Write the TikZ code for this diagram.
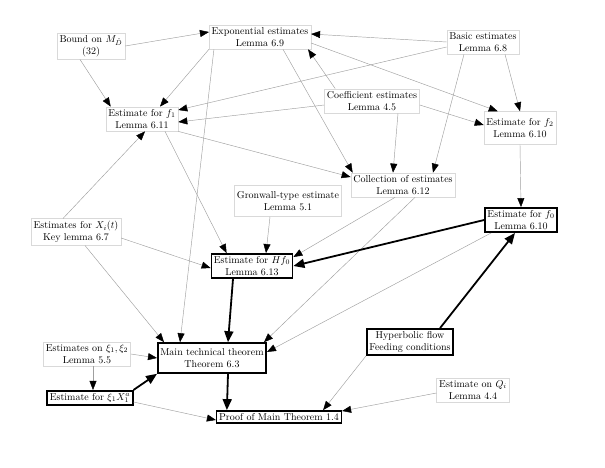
\documentclass[tikz,border=0pt]{standalone}
\usetikzlibrary{arrows.meta}
\usepackage{amsmath,amssymb}

\begin{document}
\begin{tikzpicture}[x=1pt,y=-1pt,>={Triangle[length=9pt,width=7pt,black]},
	soft node/.style={draw=gray!30,fill=white,align=center,inner sep=2.5pt,line width=0.5pt},
	key node/.style={draw,fill=white,align=center,inner sep=2.5pt,line width=1.6pt},
	thin arrow/.style={->,draw=gray!75,line width=0.45pt},
	thick arrow/.style={-{Triangle[length=11pt,width=9pt]},draw=black,line width=1.8pt}]
	\useasboundingbox (0,0) rectangle (605,468);

	\node[soft node] (bound) at (91,46) {Bound on $M_{\hat{D}}$\\(32)};
	\node[soft node] (expo) at (260,37) {Exponential estimates\\Lemma 6.9};
	\node[soft node] (basic) at (483,42) {Basic estimates\\Lemma 6.8};
	\node[soft node] (fone) at (142,119) {Estimate for $f_1$\\Lemma 6.11};
	\node[soft node] (coef) at (372,101) {Coefficient estimates\\Lemma 4.5};
	\node[soft node,minimum height=33pt] (ftwo) at (520,128) {Estimate for $f_2$\\Lemma 6.10};
	\node[soft node] (coll) at (403,185) {Collection of estimates\\Lemma 6.12};
	\node[soft node,minimum height=31pt] (gron) at (288,201) {Gronwall-type estimate\\Lemma 5.1};
	\node[soft node] (xi) at (76,232) {Estimates for $X_i(t)$\\Key lemma 6.7};
	\node[key node] (fzero) at (521,220) {Estimate for $f_0$\\Lemma 6.10};
	\node[key node] (hfzero) at (252,266) {Estimate for $Hf_0$\\Lemma 6.13};
	\node[key node] (hyper) at (410,342) {Hyperbolic flow\\Feeding conditions};
	\node[soft node] (xis) at (87,354) {Estimates on $\xi_1,\xi_2$\\Lemma 5.5};
	\node[key node,minimum height=30pt] (main) at (212,358) {Main technical theorem\\Theorem 6.3};
	\node[key node] (xix) at (90,398) {Estimate for $\xi_1 X_1^a$};
	\node[key node] (proof) at (279,417) {Proof of Main Theorem 1.4};
	\node[soft node] (qi) at (473,390) {Estimate on $Q_i$\\Lemma 4.4};

	\path[every edge/.style={thin arrow}]
		(bound.east) edge ([yshift=5pt]expo.west)
		([xshift=-11pt]bound.south) edge ([xshift=5pt]fone.north west)
		(expo.south west) edge ([xshift=18pt]fone.north)
		([xshift=5pt]expo.south west) edge ([xshift=23pt]main.north west)
		([xshift=23pt]expo.south) edge ([xshift=2pt]coll.north west)
		([yshift=-6pt]expo.east) edge ([xshift=14pt]ftwo.north west)
		(basic.west) edge ([yshift=3pt]expo.east)
		([yshift=-5pt]basic.west) edge ([yshift=9pt]fone.east)
		([xshift=22pt]basic.south) edge (ftwo.north)
		([xshift=-19pt]basic.south) edge ([xshift=30pt]coll.north)
		([xshift=11pt]coef.north west) edge ([xshift=-3pt]expo.south east)
		([yshift=-4pt]coef.west) edge ([yshift=-3pt]fone.east)
		([yshift=-4pt]coef.east) edge ([yshift=3pt]ftwo.west)
		([xshift=26pt]coef.south) edge ([xshift=-10pt]coll.north)
		(fone.south east) edge ([yshift=8pt]coll.west)
		([xshift=23pt]fone.south) edge ([xshift=16pt]hfzero.north west)
		([xshift=-13pt]xi.north) edge ([xshift=3pt]fone.south)
		([yshift=-6pt]xi.east) edge ([yshift=-2pt]hfzero.west)
		([xshift=9pt]xi.south) edge ([xshift=7pt]main.north west)
		([xshift=-18pt]gron.south) edge ([xshift=14pt]hfzero.north)
		([xshift=-8pt]coll.south) edge ([yshift=9pt]hfzero.east)
		([xshift=12pt]coll.south) edge ([xshift=-3pt]main.north east)
		(ftwo.south) edge (fzero.north)
		([xshift=7pt]fzero.south west) edge ([yshift=6pt]main.east)
		(hyper.south west) edge ([xshift=-19pt]proof.north east)
		([yshift=-3pt]qi.west) edge ([yshift=6pt]proof.east)
		(xis.east) edge (main.west)
		([xshift=6pt]xis.south) edge ([xshift=3pt]xix.north)
		([yshift=-4pt]xix.east) edge ([yshift=-3pt]proof.west);

	\path[every edge/.style={thick arrow}]
		(fzero.west) edge (hfzero.east)
		([xshift=30pt]hyper.north) edge ([xshift=-6pt]fzero.south)
		([xshift=-19pt]hfzero.south) edge ([xshift=16pt]main.north)
		(xix.north east) edge (main.south west)
		([xshift=16pt]main.south) edge ([xshift=11pt]proof.north west);
\end{tikzpicture}
\end{document}
